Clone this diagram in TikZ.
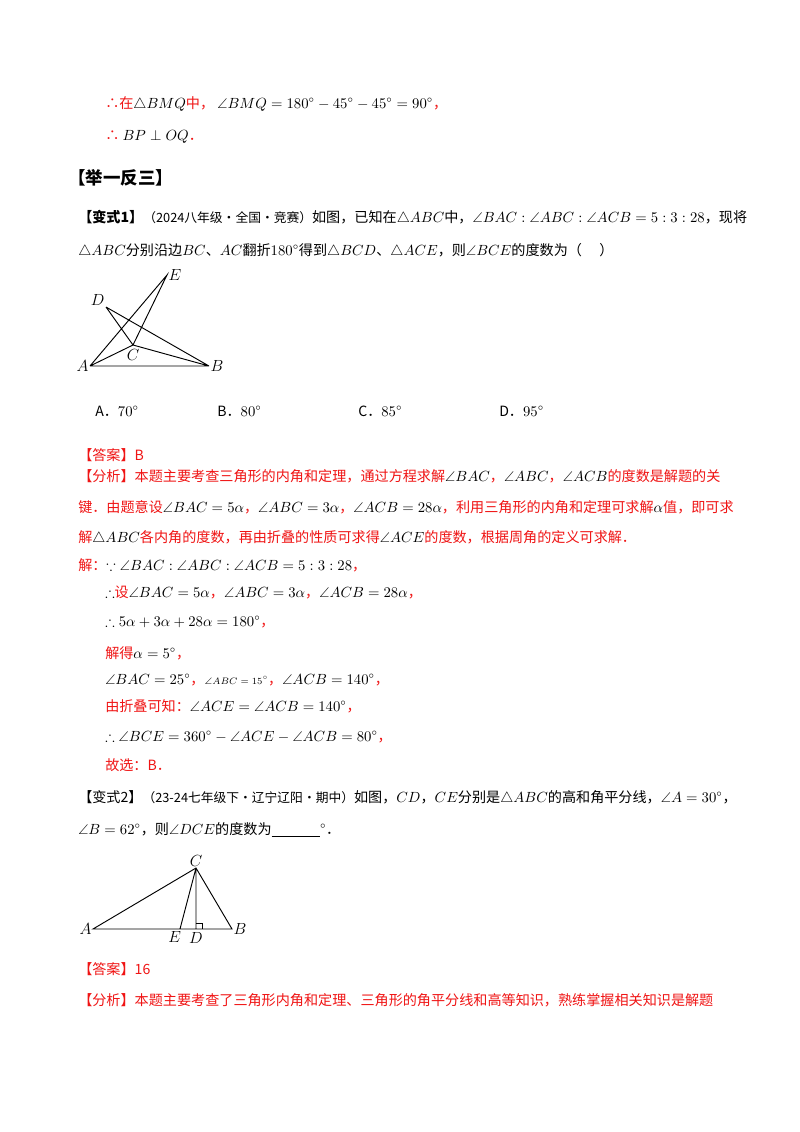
\documentclass[tikz,border=0pt]{standalone}
\usepackage{amsmath,amssymb}
\usepackage{fontspec}
\setmainfont{Noto Sans CJK SC}
\definecolor{rd}{RGB}{240,20,20}
\newcommand{\R}[1]{\textcolor{rd}{#1}}
\begin{document}
\begin{tikzpicture}[x=0.744pt,y=-0.744pt,
  t/.style={anchor=base west,inner sep=0pt,font=\fontsize{10.5}{12}\selectfont},
  lbl/.style={inner sep=1pt,font=\fontsize{11.5}{12}\selectfont,execute at begin node=$,execute at end node=$},
  ln/.style={line width=0.7pt}]
\useasboundingbox[fill=white] (0,0) rectangle (800,1132);
\node[t] (l1) at (105,108) {\R{∴在}$\triangle BMQ$\R{中，}\ $\angle BMQ=180^\circ-45^\circ-45^\circ=90^\circ$\R{，}};
\node[t] (l2) at (105,140) {\R{∴}\ $BP\perp OQ$\R{．}};
\node[t,font=\bfseries\fontsize{13}{14}\selectfont] (l3) at (68,184) {【举一反三】};
\node[t] (l4) at (78,222) {\textbf{【变式1】}{\fontsize{9.5}{11}\selectfont（2024八年级·全国·竞赛）}如图，已知在$\triangle ABC$中，$\angle BAC:\angle ABC:\angle ACB=5:3:28$，现将};
\node[t] (l5) at (78,255) {$\triangle ABC$分别沿边$BC$、$AC$翻折$180^\circ$得到$\triangle BCD$、$\triangle ACE$，则$\angle BCE$的度数为（\quad\ ）};
% figure 1
\coordinate (A1) at (90,366);
\coordinate (B1) at (209,366);
\coordinate (C1) at (133,345);
\coordinate (D1) at (106,307);
\coordinate (E1) at (167,275);
\draw[ln] (A1)--(B1) (A1)--(C1)--(B1) (A1)--(E1)--(C1) (D1)--(C1) (D1)--(B1);
\node[lbl,left] (nA1) at (A1) {A};
\node[lbl,right] (nB1) at (B1) {B};
\node[lbl,anchor=north] (nC1) at ([yshift=-2pt]C1) {C};
\node[lbl,above left=0pt] (nD1) at (D1) {D};
\node[lbl,right] (nE1) at (E1) {E};
\node[t] (oa) at (95,416) {A．$70^\circ$};
\node[t] (ob) at (217,416) {B．$80^\circ$};
\node[t] (oc) at (358,416) {C．$85^\circ$};
\node[t] (od) at (499,416) {D．$95^\circ$};
\node[t] (ans1) at (78,460) {\R{【答案】B}};
\node[t] (f1) at (78,481) {\R{【分析】本题主要考查三角形的内角和定理，通过方程求解}$\angle BAC$\R{，}$\angle ABC$\R{，}$\angle ACB$\R{的度数是解题的关}};
\node[t] (f2) at (78,512) {\R{键．由题意设}$\angle BAC=5\alpha$\R{，}$\angle ABC=3\alpha$\R{，}$\angle ACB=28\alpha$\R{，利用三角形的内角和定理可求解}$\alpha$\R{值，即可求}};
\node[t] (f3) at (78,542) {\R{解}$\triangle ABC$\R{各内角的度数，再由折叠的性质可求得}$\angle ACE$\R{的度数，根据周角的定义可求解．}};
\node[t] (s0) at (78,570) {\R{解：}$\because\angle BAC:\angle ABC:\angle ACB=5:3:28$\R{，}};
\node[t] (s1) at (105,597) {$\therefore$\R{设}$\angle BAC=5\alpha$\R{，}$\angle ABC=3\alpha$\R{，}$\angle ACB=28\alpha$\R{，}};
\node[t] (s2) at (105,626) {$\therefore 5\alpha+3\alpha+28\alpha=180^\circ$\R{，}};
\node[t] (s3) at (105,658) {\R{解得}$\alpha=5^\circ$\R{，}};
\node[t] (s4) at (105,684) {$\angle BAC=25^\circ$\R{，}{\scriptsize$\angle ABC=15^\circ$}\R{，}$\angle ACB=140^\circ$\R{，}};
\node[t] (s5) at (105,711) {\R{由折叠可知：}$\angle ACE=\angle ACB=140^\circ$\R{，}};
\node[t] (s6) at (105,741) {$\therefore\angle BCE=360^\circ-\angle ACE-\angle ACB=80^\circ$\R{，}};
\node[t] (s7) at (105,770) {\R{故选：B．}};
\node[t] (v2) at (78,802) {【变式2】{\fontsize{9.5}{11}\selectfont（23-24七年级下·辽宁辽阳·期中）}如图，$CD$，$CE$分别是$\triangle ABC$的高和角平分线，$\angle A=30^\circ$，};
\node[t] (v2b) at (78,834) {$\angle B=62^\circ$，则$\angle DCE$的度数为\underline{\hspace{36pt}}$^\circ$．};
% figure 2
\coordinate (A2) at (93,929);
\coordinate (B2) at (232,929);
\coordinate (C2) at (196,868);
\coordinate (E2) at (180,929);
\coordinate (D2) at (196,929);
\draw[ln] (A2)--(B2)--(C2)--cycle (C2)--(E2) (C2)--(D2);
\draw[line width=0.4pt] (D2)++(0,-6)-|++(6,6);
\node[lbl,left] (nA2) at (A2) {A};
\node[lbl,right] (nB2) at (B2) {B};
\node[lbl,above] (nC2) at (C2) {C};
\node[lbl,anchor=north east] (nE2) at ([xshift=2pt,yshift=-1pt]E2) {E};
\node[lbl,anchor=north] (nD2) at ([yshift=-1.5pt]D2) {D};
\node[t] (ans2) at (78,974) {\R{【答案】16}};
\node[t] (f4) at (78,1005) {\R{【分析】本题主要考查了三角形内角和定理、三角形的角平分线和高等知识，熟练掌握相关知识是解题}};
\end{tikzpicture}
\end{document}
